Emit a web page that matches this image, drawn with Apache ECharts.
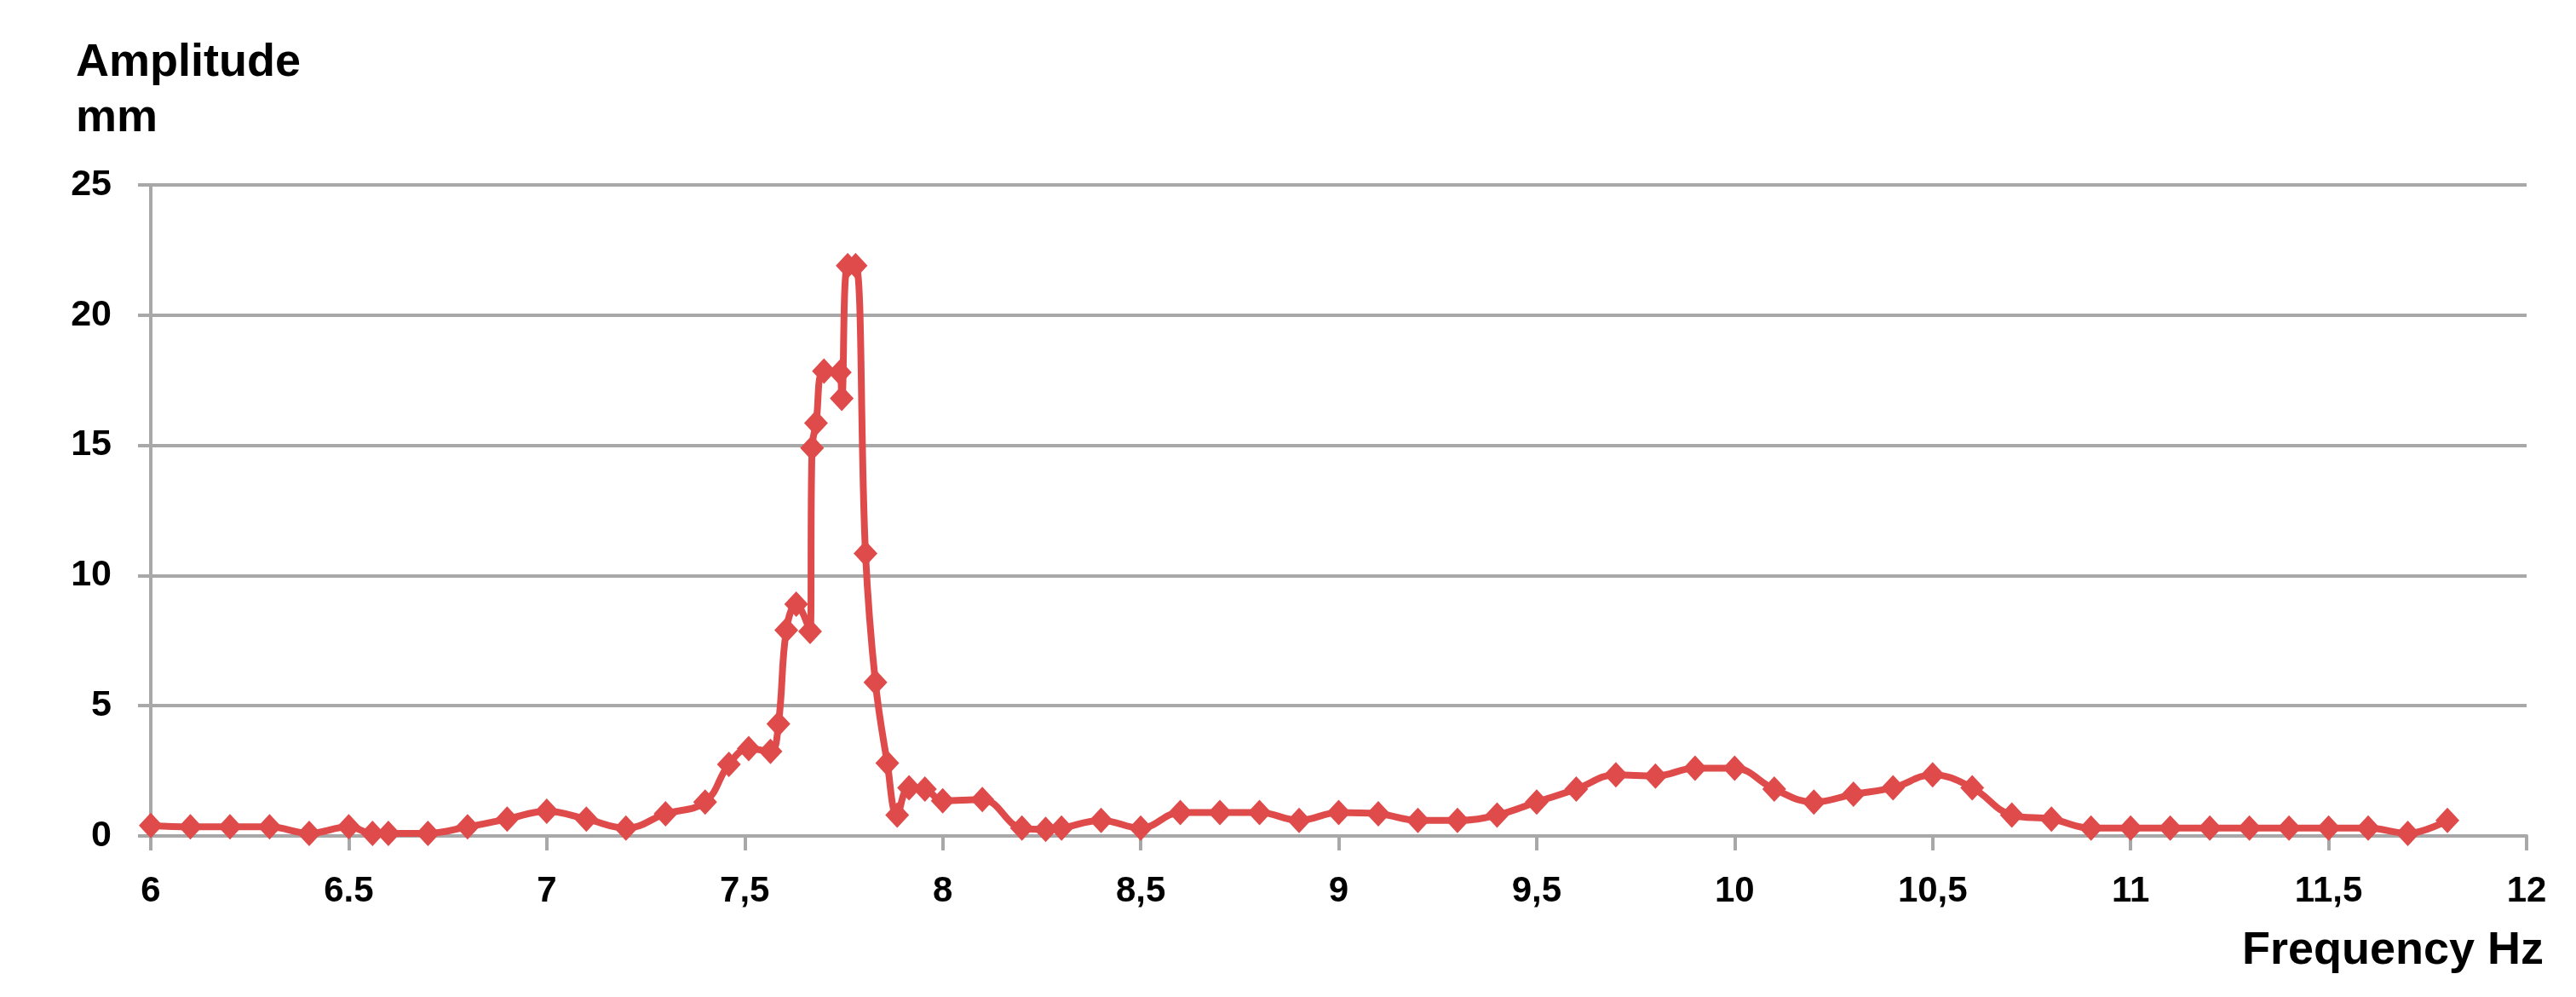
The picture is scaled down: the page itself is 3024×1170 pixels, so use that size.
<!DOCTYPE html>
<html>
<head>
<meta charset="utf-8">
<script src="https://cdn.jsdelivr.net/npm/echarts@6/dist/echarts.min.js"></script>
<style>
  html, body { margin: 0; padding: 0; background: #fff; }
  #chart { width: 3024px; height: 1170px; }
</style>
</head>
<body>
<div id="chart"></div>
<script>
  // frequency (Hz) and amplitude (mm)
  var freq = [6.0, 6.1, 6.2, 6.3, 6.4, 6.5, 6.56, 6.6, 6.7, 6.8, 6.9, 7.0, 7.1, 7.2, 7.3, 7.4,
    7.46, 7.51, 7.565, 7.585, 7.605, 7.63, 7.665, 7.67, 7.68, 7.7, 7.74, 7.745, 7.76, 7.78,
    7.805, 7.83, 7.86, 7.885, 7.915, 7.955, 8.0, 8.1, 8.2, 8.26, 8.3, 8.4, 8.5, 8.6, 8.7,
    8.8, 8.9, 9.0, 9.1, 9.2, 9.3, 9.4, 9.5, 9.6, 9.7, 9.8, 9.9, 10.0, 10.1, 10.2, 10.3,
    10.4, 10.5, 10.6, 10.7, 10.8, 10.9, 11.0, 11.1, 11.2, 11.3, 11.4, 11.5, 11.6, 11.7, 11.8];
  var amplitude = [0.4, 0.35, 0.35, 0.35, 0.1, 0.35, 0.1, 0.1, 0.1, 0.35, 0.65, 0.95, 0.65, 0.3, 0.85, 1.3,
    2.75, 3.35, 3.25, 4.3, 7.9, 8.9, 7.85, 14.9, 15.85, 17.85, 17.8, 16.8, 21.9, 21.9,
    10.85, 5.9, 2.8, 0.8, 1.85, 1.8, 1.35, 1.4, 0.3, 0.25, 0.3, 0.6, 0.3, 0.9, 0.9,
    0.9, 0.6, 0.9, 0.85, 0.6, 0.6, 0.8, 1.3, 1.8, 2.35, 2.3, 2.6, 2.6, 1.8, 1.3, 1.6,
    1.85, 2.35, 1.85, 0.8, 0.65, 0.3, 0.3, 0.3, 0.3, 0.3, 0.3, 0.3, 0.3, 0.1, 0.6];
  var xTickLabels = ['6', '6.5', '7', '7,5', '8', '8,5', '9', '9,5', '10', '10,5', '11', '11,5', '12'];

  var chart = echarts.init(document.getElementById('chart'));
  var font = '"Liberation Sans", Arial, sans-serif';
  var grey = '#a8a8a8';

  var option = {
    animation: false,
    backgroundColor: '#fff',
    grid: { left: 177, right: 58, top: 217, bottom: 189, containLabel: false },
    xAxis: {
      type: 'value',
      min: 6,
      max: 12,
      interval: 0.5,
      axisLine: { show: true, onZero: false, lineStyle: { color: grey, width: 4 } },
      axisTick: { show: true, length: 17, lineStyle: { color: grey, width: 4 } },
      splitLine: { show: false },
      axisLabel: {
        margin: 44,
        color: '#000',
        fontFamily: font,
        fontWeight: 'bold',
        fontSize: 42,
        formatter: function (v) {
          var i = Math.round((v - 6) / 0.5);
          return xTickLabels[i] || '';
        }
      }
    },
    yAxis: {
      type: 'value',
      min: 0,
      max: 25,
      interval: 5,
      axisLine: { show: true, lineStyle: { color: grey, width: 4 } },
      axisTick: { show: true, length: 15, lineStyle: { color: grey, width: 4 } },
      splitLine: { show: true, lineStyle: { color: grey, width: 4 } },
      axisLabel: {
        margin: 46,
        color: '#000',
        fontFamily: font,
        fontWeight: 'bold',
        fontSize: 43
      }
    },
    graphic: [
      { type: 'text', left: 89, top: 47,
        style: { text: 'Amplitude', font: 'bold 54px ' + font, fill: '#000' } },
      { type: 'text', left: 89, top: 112,
        style: { text: 'mm', font: 'bold 54px ' + font, fill: '#000' } },
      { type: 'text', right: 38, top: 1089,
        style: { text: 'Frequency Hz', font: 'bold 54px ' + font, fill: '#000' } }
    ],
    series: [
      {
        type: 'line',
        data: freq.map(function (f, i) { return [f, amplitude[i]]; }),
        smooth: 0.4,
        symbol: 'diamond',
        symbolSize: [28, 30],
        itemStyle: { color: '#df4b4b' },
        lineStyle: { color: '#df4b4b', width: 8 }
      }
    ]
  };
  chart.setOption(option);
</script>
</body>
</html>
